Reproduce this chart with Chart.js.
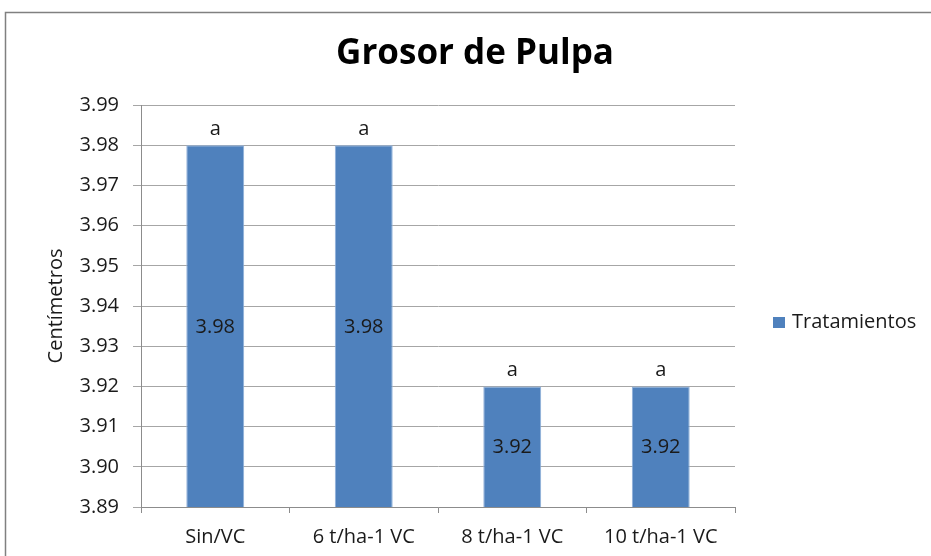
<!DOCTYPE html>
<html>
<head>
<meta charset="utf-8">
<script src="https://cdn.jsdelivr.net/npm/chart.js@4/dist/chart.umd.min.js"></script>
<style>
  html, body { margin: 0; padding: 0; background: #fff; }
  #wrap { width: 931px; height: 556px; position: relative; }
</style>
</head>
<body>
<div id="wrap"><canvas id="grosorChart"></canvas></div>
<script>
/* -----------------------------------------------
   Datos
----------------------------------------------- */
const categorias = ['Sin/VC', '6 t/ha-1 VC', '8 t/ha-1 VC', '10 t/ha-1 VC'];
const grosor = [3.98, 3.98, 3.92, 3.92];
const letras = ['a', 'a', 'a', 'a'];
const yTicks = [3.89, 3.90, 3.91, 3.92, 3.93, 3.94, 3.95, 3.96, 3.97, 3.98, 3.99];
const serie = 'Tratamientos';
const titulo = 'Grosor de Pulpa';
const ejeY = 'Centímetros';

const FONT = '"Open Sans", sans-serif';
const AZUL = '#4f81bd';
const TEXTO = '#1a1a1a';

/* marco, título, leyenda y etiquetas de barras */
const decoracion = {
    id: 'decoracion',
    beforeDraw(chart) {
        const ctx = chart.ctx;
        ctx.save();
        ctx.strokeStyle = '#808080';
        ctx.lineWidth = 1.5;
        ctx.strokeRect(5.5, 12.5, 940, 560);
        ctx.restore();
    },
    afterDatasetsDraw(chart) {
        const ctx = chart.ctx;
        const meta = chart.getDatasetMeta(0);
        const base = chart.scales.y.bottom;
        ctx.save();
        ctx.textAlign = 'center';
        ctx.textBaseline = 'middle';
        ctx.fillStyle = TEXTO;
        ctx.font = '20px ' + FONT;
        meta.data.forEach((bar, i) => {
            ctx.fillText(grosor[i].toFixed(2), bar.x, (bar.y + base) / 2 + 1);
            ctx.fillText(letras[i], bar.x, bar.y - 16);
        });

        // título
        ctx.font = 'bold 35px ' + FONT;
        ctx.fillStyle = '#000';
        ctx.fillText(titulo, 475, 54);

        // leyenda
        ctx.fillStyle = AZUL;
        ctx.fillRect(773, 317, 12, 11);
        ctx.fillStyle = TEXTO;
        ctx.textAlign = 'left';
        ctx.font = '20px ' + FONT;
        ctx.fillText(serie, 792, 322);
        ctx.restore();
    }
};

new Chart(document.getElementById('grosorChart'), {
    type: 'bar',
    data: {
        labels: categorias,
        datasets: [{
            label: serie,
            data: grosor,
            backgroundColor: AZUL,
            borderColor: '#8fb0da',
            borderWidth: 1,
            borderSkipped: 'bottom',
            barPercentage: 0.39,
            categoryPercentage: 1
        }]
    },
    options: {
        responsive: true,
        maintainAspectRatio: false,
        animation: false,
        layout: { padding: { left: 0, top: 105, right: 196, bottom: 0 } },
        plugins: {
            legend: { display: false },
            title: { display: false },
            tooltip: { enabled: false }
        },
        scales: {
            x: {
                afterFit(scale) { scale.height = 49; },
                grid: { drawOnChartArea: false, tickLength: 6, color: '#8c8c8c' },
                border: { color: '#8c8c8c' },
                ticks: { color: TEXTO, font: { family: FONT, size: 20 }, padding: 12 }
            },
            y: {
                min: 3.89,
                max: 3.99,
                afterFit(scale) { scale.width = 141; },
                afterBuildTicks(scale) { scale.ticks = yTicks.map(v => ({ value: v })); },
                grid: { color: '#a6a6a6', tickLength: 8 },
                border: { color: '#8c8c8c' },
                ticks: {
                    color: TEXTO,
                    font: { family: FONT, size: 20 },
                    padding: 14,
                    callback: v => Number(v).toFixed(2)
                },
                title: {
                    display: true,
                    text: ejeY,
                    color: TEXTO,
                    font: { family: FONT, size: 20 },
                    padding: { top: 44, bottom: 0 }
                }
            }
        }
    },
    plugins: [decoracion]
});
</script>
</body>
</html>
